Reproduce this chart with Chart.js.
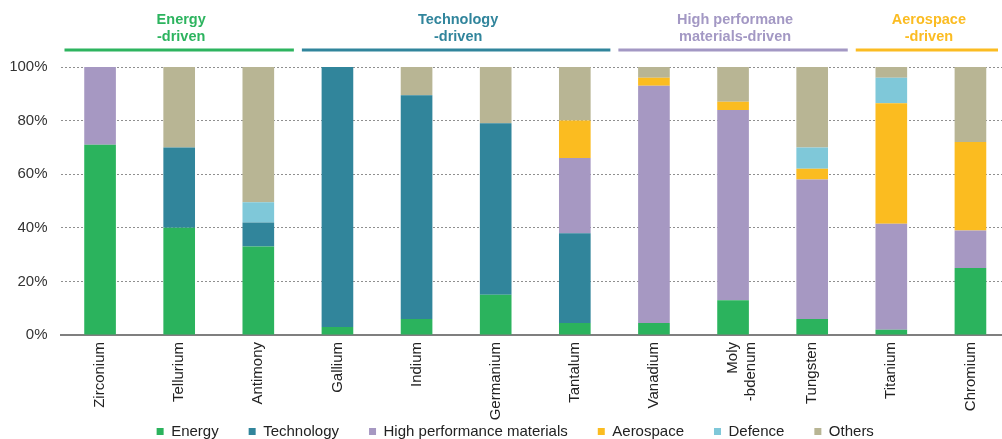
<!DOCTYPE html>
<html>
<head>
<meta charset="utf-8">
<script src="https://cdn.jsdelivr.net/npm/chart.js@4.4.1/dist/chart.umd.min.js"></script>
<style>
  html, body { margin: 0; padding: 0; background: #fff; width: 1002px; height: 439px; overflow: hidden; }
  /* plot in the reference runs a few px past the right edge */
  #wrap { width: 1010px; height: 439px; position: relative; }
</style>
</head>
<body>
<div id="wrap"><canvas id="metalsChart"></canvas></div>
<script>
// categories + shares (%)
const metals = ['Zirconium', 'Tellurium', 'Antimony', 'Gallium', 'Indium', 'Germanium', 'Tantalum',
  'Vanadium', ['Moly', '-bdenum'], 'Tungsten', 'Titanium', 'Chromium'];

const energy     = [71, 40, 33, 3, 6, 15, 4.5, 4.5, 13, 6, 2, 25];
const technology = [0, 30, 9, 97, 83.5, 64, 33.5, 0, 0, 0, 0, 0];
const highPerf   = [29, 0, 0, 0, 0, 0, 28, 88.5, 71, 52, 39.5, 14];
const aerospace  = [0, 0, 0, 0, 0, 0, 14, 3, 3, 4, 45, 33];
const defence    = [0, 0, 7.5, 0, 0, 0, 0, 0, 0, 8, 9.5, 0];
const others     = [0, 30, 50.5, 0, 10.5, 21, 20, 4, 13, 30, 4, 28];

const yTicks = [0, 20, 40, 60, 80, 100];

// header groups: title lines + first/last category index
const groupTitles = [['Energy', '-driven'], ['Technology', '-driven'], ['High performane', 'materials-driven'], ['Aerospace', '-driven']];
const groupFirst  = [0, 3, 7, 10];
const groupLast   = [2, 6, 9, 11];
const groupColors = ['#2db45f', '#31859c', '#a398c4', '#fbbc22'];

const COLORS = {
  energy: '#2bb35d',
  technology: '#31859b',
  highPerf: '#a698c2',
  aerospace: '#fbbc20',
  defence: '#7fc8d9',
  others: '#b8b594'
};

const FONT = '"Liberation Sans", Arial, sans-serif';

// group headers above the plot
const groupHeaders = {
  id: 'groupHeaders',
  afterDraw(chart) {
    const x = chart.scales.x;
    const ctx = chart.ctx;
    const half = x.width / metals.length / 2;
    ctx.save();
    groupTitles.forEach((lines, g) => {
      const left = x.getPixelForValue(groupFirst[g]) - half + 4;
      const right = Math.min(x.getPixelForValue(groupLast[g]) + half - 4, 998);
      const mid = (left + right) / 2;
      ctx.strokeStyle = groupColors[g];
      ctx.lineWidth = 3;
      ctx.beginPath();
      ctx.moveTo(left, 50);
      ctx.lineTo(right, 50);
      ctx.stroke();
      ctx.fillStyle = groupColors[g];
      ctx.font = 'bold 14.5px ' + FONT;
      ctx.textAlign = 'center';
      ctx.textBaseline = 'middle';
      lines.forEach((t, i) => ctx.fillText(t, mid + 2, 20 + i * 17));
    });
    ctx.restore();
  }
};

// legend needs wide horizontal gaps but little height
const SQUASH = 36;
const LIFT = 26;
const NUDGE = 5;
const legendSquash = {
  id: 'legendSquash',
  beforeInit(chart) {
    const legend = chart.legend;
    if (!legend) return;
    const fit = legend.fit;
    legend.fit = function () { fit.call(this); this.height -= SQUASH; };
    const draw = legend.draw;
    legend.draw = function () {
      const { top, left, right } = this;
      this.top = top - LIFT;
      this.left = left + NUDGE;
      this.right = right + NUDGE;
      draw.call(this);
      this.top = top;
      this.left = left;
      this.right = right;
    };
  }
};

const ds = (label, data, color) => ({
  label, data, backgroundColor: color, borderWidth: 0,
  barPercentage: 0.4, categoryPercentage: 1
});

new Chart(document.getElementById('metalsChart'), {
  type: 'bar',
  data: {
    labels: metals,
    datasets: [
      ds('Energy', energy, COLORS.energy),
      ds('Technology', technology, COLORS.technology),
      ds('High performance materials', highPerf, COLORS.highPerf),
      ds('Aerospace', aerospace, COLORS.aerospace),
      ds('Defence', defence, COLORS.defence),
      ds('Others', others, COLORS.others)
    ]
  },
  options: {
    responsive: true,
    maintainAspectRatio: false,
    animation: false,
    layout: { padding: { top: 67, left: 10.5, right: 0, bottom: 0 } },
    plugins: {
      legend: {
        position: 'bottom',
        labels: {
          boxWidth: 7, boxHeight: 7, padding: 30,
          color: '#222',
          font: { family: FONT, size: 15 }
        }
      },
      tooltip: { mode: 'index', intersect: false }
    },
    scales: {
      x: {
        stacked: true,
        grid: { display: false, drawTicks: false },
        border: { display: true, color: '#7f7f7f', width: 2 },
        afterFit(axis) { axis.height = 85; },
        ticks: {
          autoSkip: false, maxRotation: 90, minRotation: 90, padding: 7,
          color: '#222',
          font: { family: FONT, size: 15 }
        }
      },
      y: {
        stacked: true,
        min: 0, max: 100,
        afterBuildTicks(axis) { axis.ticks = yTicks.map(v => ({ value: v })); },
        afterFit(axis) { axis.width = 50; },
        border: { display: false, dash: [2, 2] },
        grid: { color: '#8f8f8f', lineWidth: 1, drawTicks: false },
        ticks: {
          padding: 13,
          color: '#333',
          font: { family: FONT, size: 15 },
          callback: v => v + '%'
        }
      }
    }
  },
  plugins: [groupHeaders, legendSquash]
});
</script>
</body>
</html>
